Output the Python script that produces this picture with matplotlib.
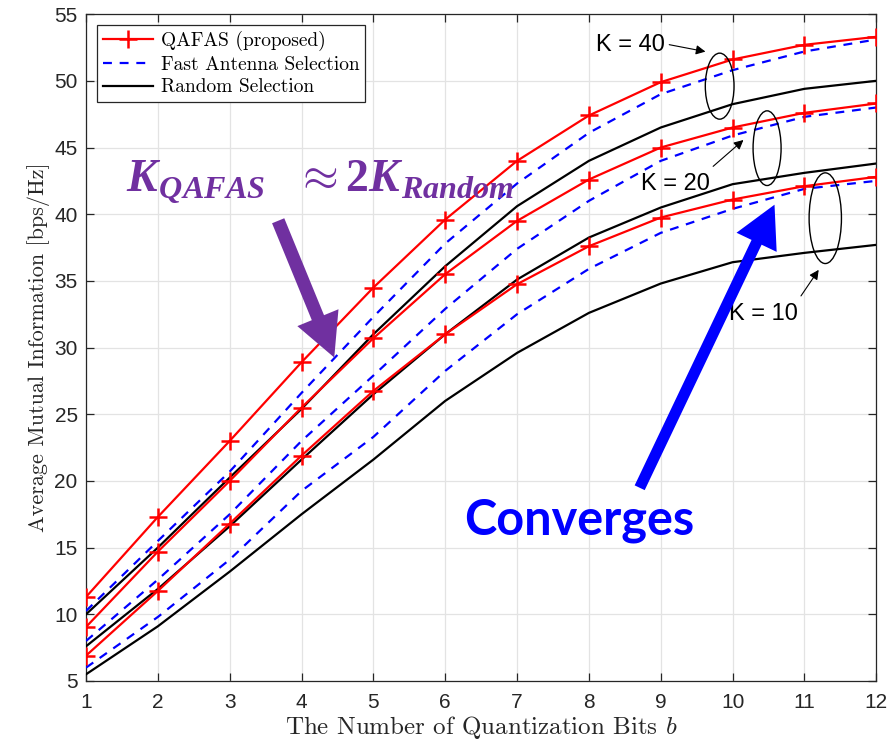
import matplotlib
matplotlib.use("Agg")
import matplotlib.pyplot as plt
from matplotlib.patches import Ellipse, FancyArrowPatch
import numpy as np

plt.rcParams['mathtext.fontset'] = 'custom'
plt.rcParams['mathtext.rm'] = 'cmr10'
plt.rcParams['mathtext.it'] = 'cmmi10'
plt.rcParams['mathtext.bf'] = 'Liberation Serif:bold'
plt.rcParams['mathtext.bfit'] = 'Liberation Serif:italic:bold'

bits = [1, 2, 3, 4, 5, 6, 7, 8, 9, 10, 11, 12]

qafas_k40 = [11.3, 17.3, 23.0, 28.9, 34.5, 39.6, 44.0, 47.4, 49.9, 51.6, 52.7, 53.3]
qafas_k20 = [9.05, 14.7, 20.0, 25.5, 30.7, 35.5, 39.5, 42.6, 45.0, 46.5, 47.6, 48.3]
qafas_k10 = [6.9, 11.75, 16.8, 21.9, 26.75, 31.0, 34.75, 37.6, 39.75, 41.1, 42.1, 42.8]

fast_k40 = [10.25, 15.5, 20.7, 26.6, 32.3, 37.8, 42.3, 46.1, 49.0, 50.8, 52.2, 53.1]
fast_k20 = [8.0, 12.6, 17.5, 23.0, 27.9, 32.9, 37.4, 41.0, 44.0, 45.9, 47.3, 48.0]
fast_k10 = [6.0, 9.8, 14.1, 19.25, 23.3, 28.25, 32.5, 35.9, 38.6, 40.4, 41.9, 42.5]

rand_k40 = [10.0, 15.0, 20.25, 25.4, 31.0, 36.1, 40.6, 44.0, 46.5, 48.25, 49.4, 50.0]
rand_k20 = [7.6, 11.9, 16.6, 21.6, 26.5, 31.0, 35.1, 38.25, 40.5, 42.25, 43.1, 43.8]
rand_k10 = [5.5, 9.1, 13.2, 17.5, 21.6, 26.0, 29.6, 32.6, 34.8, 36.4, 37.1, 37.7]

legend_labels = ['QAFAS (proposed)', 'Fast Antenna Selection', 'Random Selection']

fig = plt.figure(figsize=(8.96, 7.44), dpi=100)
ax = fig.add_axes([0.096, 0.0847, 0.882, 0.8963])

lw = 1.6
for i, (q, f, r) in enumerate([(qafas_k40, fast_k40, rand_k40),
                               (qafas_k20, fast_k20, rand_k20),
                               (qafas_k10, fast_k10, rand_k10)]):
    ax.plot(bits, q, color='#ff0000', lw=lw, marker='+', ms=13, mew=1.8,
            label=legend_labels[0] if i == 0 else None, zorder=4)
    ax.plot(bits, f, color='#0000ff', lw=lw, ls=(0, (4, 3.5)),
            label=legend_labels[1] if i == 0 else None, zorder=3)
    ax.plot(bits, r, color='black', lw=lw,
            label=legend_labels[2] if i == 0 else None, zorder=3)

ax.set_xlim(1, 12)
ax.set_ylim(5, 55)
ax.set_xticks(bits)
ax.set_yticks(np.arange(5, 56, 5))
ax.grid(True, color='#e3e3e3', lw=0.9)
ax.set_axisbelow(True)
ax.tick_params(direction='in', top=True, right=True, length=6, width=0.9,
               labelsize=15, colors='#262626', pad=6)
ax.tick_params(axis='x', pad=9)
for lab in ax.get_xticklabels() + ax.get_yticklabels():
    lab.set_fontfamily('Liberation Sans')
for s in ax.spines.values():
    s.set_color('#262626')
    s.set_linewidth(0.9)

ax.set_xlabel(r'The Number of Quantization Bits $b$', family='cmr10', fontsize=18,
              color='#262626')
ax.set_ylabel('Average Mutual Information [bps/Hz]', family='cmr10', fontsize=16,
              color='#262626')
ax.xaxis.set_label_coords(0.5, -0.05)
ax.yaxis.set_label_coords(-0.046, 0.5)

leg = ax.legend(loc='upper left', prop={'family': 'cmr10', 'size': 14},
                fancybox=False, edgecolor='#262626', framealpha=1,
                borderaxespad=0.55, handlelength=2.6, handletextpad=0.4,
                labelspacing=0.25, borderpad=0.3)
leg.get_frame().set_linewidth(0.9)

# ellipses
for (cx, cy, w, h) in [(9.82, 49.6, 0.40, 4.95), (10.48, 44.95, 0.39, 5.6), (11.29, 39.7, 0.45, 6.8)]:
    ax.add_patch(Ellipse((cx, cy), w, h, fill=False, ec='black', lw=1.0, zorder=5))

# K labels with thin arrows
kl = dict(fontsize=17, family='Liberation Sans', ha='center', va='center', color='black')
ax.annotate('', xy=(9.66, 52.15), xytext=(9.08, 52.75),
            arrowprops=dict(arrowstyle='-|>', lw=0.8, color='black', mutation_scale=14))
ax.text(8.58, 52.7, 'K = 40', **kl)
ax.annotate('', xy=(10.18, 45.7), xytext=(9.70, 43.45),
            arrowprops=dict(arrowstyle='-|>', lw=0.8, color='black', mutation_scale=14))
ax.text(9.2, 42.25, 'K = 20', **kl)
ax.annotate('', xy=(11.22, 36.0), xytext=(10.93, 33.7),
            arrowprops=dict(arrowstyle='-|>', lw=0.8, color='black', mutation_scale=14))
ax.text(10.43, 32.5, 'K = 10', **kl)

# blue "Converges" arrow
blue_arrow = FancyArrowPatch((8.69, 19.3), (10.6, 40.9),
                             arrowstyle='simple, head_width=32, head_length=30, tail_width=8',
                             mutation_scale=1, color='#0000ff', lw=0, zorder=6)
ax.add_patch(blue_arrow)
ax.text(7.86, 17.0, 'Converges', fontsize=35, family='Lato', weight='bold',
        color='#0000ff', ha='center', va='center', zorder=6)

# purple arrow and text
purple = '#7030a0'
p_arrow = FancyArrowPatch((3.66, 39.7), (4.47, 29.06),
                          arrowstyle='simple, head_width=32, head_length=31, tail_width=9.5',
                          mutation_scale=1, color=purple, lw=0, zorder=6)
ax.add_patch(p_arrow)
ax.text(4.26, 42.4, r'$\mathbfit{K}_{\mathbfit{QAFAS}}\ \ \approx \mathbf{2}\mathbfit{K}_{\mathbfit{Random}}$',
        fontsize=33, color=purple, ha='center', va='center', zorder=6)

fig.savefig('out.png', dpi=100)
